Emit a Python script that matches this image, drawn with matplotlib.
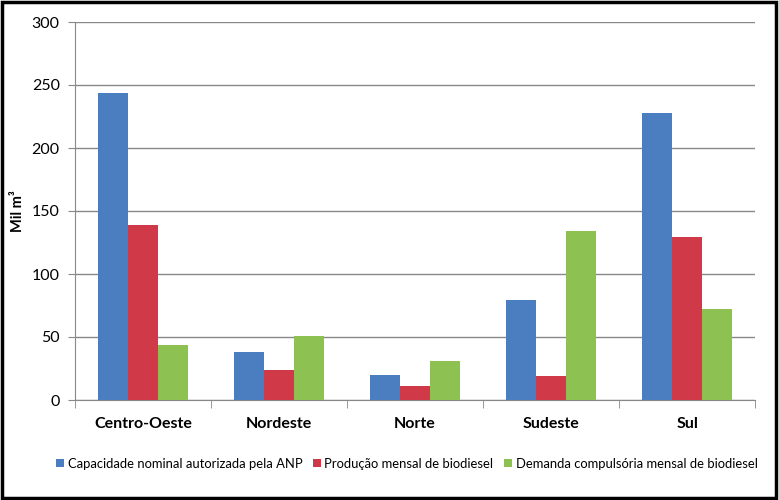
import numpy as np
import matplotlib.pyplot as plt
from matplotlib.patches import Rectangle

plt.rcParams['font.family'] = ['Lato', 'DejaVu Sans']

regioes = ['Centro-Oeste', 'Nordeste', 'Norte', 'Sudeste', 'Sul']
series = ['Capacidade nominal autorizada pela ANP',
          'Produção mensal de biodiesel',
          'Demanda compulsória mensal de biodiesel']
capacidade = [243.5, 38, 20, 79.5, 228]
producao = [139, 24, 11, 19, 129.5]
demanda = [43.5, 51, 31, 134, 72]
cores = ['#4A7EC0', '#D03A48', '#8DC253']

fig = plt.figure(figsize=(7.79, 5.0), dpi=100)
ax = fig.add_axes([0.0963, 0.2, 0.873, 0.756])

x = np.arange(len(regioes))
w = 0.222
for k, vals in enumerate([capacidade, producao, demanda]):
    ax.bar(x + (k - 1) * w, vals, width=w, color=cores[k], label=series[k], zorder=3)

ax.set_xlim(-0.5, len(regioes) - 0.5)
ax.set_ylim(0, 300)
ax.set_yticks(np.arange(0, 301, 50))
ax.yaxis.grid(True, color='#888888', linewidth=1.0, zorder=0)
ax.tick_params(axis='y', labelsize=11.5, length=5, color='#888888', pad=6)

# category labels centred, tick marks at boundaries
ax.set_xticks(x)
ax.set_xticklabels(regioes, fontsize=11.5, fontweight='bold')
ax.tick_params(axis='x', length=0, pad=12)
ax.set_xticks(np.arange(-0.5, len(regioes), 1), minor=True)
ax.tick_params(axis='x', which='minor', length=6, color='#888888')

for s in ['top', 'right']:
    ax.spines[s].set_visible(False)
for s in ['left', 'bottom']:
    ax.spines[s].set_color('#888888')

ax.set_ylabel('Mil m³', fontsize=10.5, fontweight='bold', labelpad=5)

fig.legend(loc='center', bbox_to_anchor=(0.522, 0.073), ncol=3, frameon=False,
           fontsize=9.4, handlelength=0.6, handleheight=0.6, handletextpad=0.3,
           columnspacing=0.8)

fig.patches.append(Rectangle((0.003, 0.004), 0.993, 0.992, transform=fig.transFigure,
                             fill=False, edgecolor='black', linewidth=2.5))

fig.savefig('out.png', dpi=100)
